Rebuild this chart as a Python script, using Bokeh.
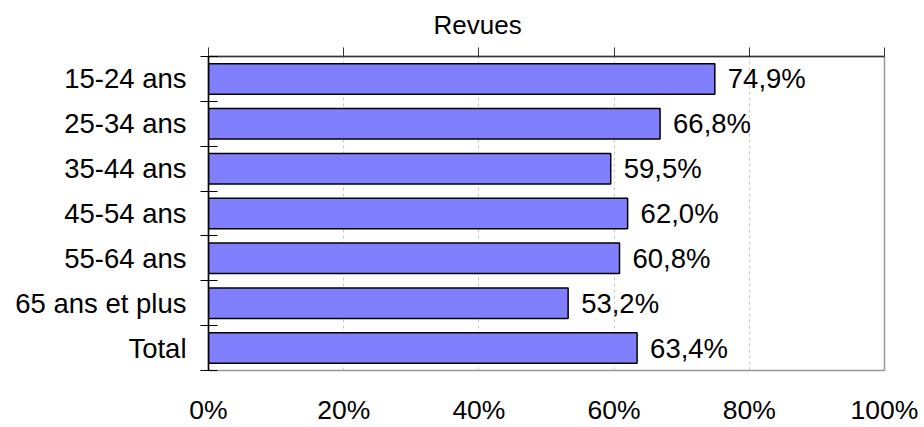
from bokeh.plotting import figure
from bokeh.models import Range1d, LinearAxis, FixedTicker, ColumnDataSource
from bokeh.core.properties import value
from bokeh.embed import file_html
from bokeh.resources import INLINE

categories = ["15-24 ans", "25-34 ans", "35-44 ans", "45-54 ans", "55-64 ans", "65 ans et plus", "Total"]
values = [74.9, 66.8, 59.5, 62.0, 60.8, 53.2, 63.4]
x_ticks = [0, 20, 40, 60, 80, 100]
x_tick_labels = ["0%", "20%", "40%", "60%", "80%", "100%"]
title_text = "Revues"

n = len(categories)
ypos = [n - 0.5 - i for i in range(n)]
labels = [f"{v:.1f}".replace(".", ",") + "%" for v in values]

FONT = "Liberation Sans"
FS = "27.5px"
FS2 = "26.5px"

p = figure(width=920, height=427, output_backend="svg", toolbar_location=None,
           x_range=Range1d(0, 100), y_range=Range1d(0, n),
           x_axis_location=None, y_axis_location=None,
           min_border_left=208, min_border_right=36, min_border_top=56, min_border_bottom=40)
p.background_fill_color = "white"
p.border_fill_color = "white"
p.outline_line_color = "#999999"
p.outline_line_width = 1.5

p.title.text = title_text
p.title.align = "left"
p.title.offset = 225
p.title.text_font = FONT
p.title.text_font_size = "26px"
p.title.text_font_style = "normal"
p.title.text_color = "black"
p.title.standoff = 15

src = ColumnDataSource(dict(y=ypos, right=values, lab=labels))
p.hbar(y="y", left=0, right="right", height=0.68, source=src,
       fill_color="#8080FF", line_color="black", line_width=1.5)
p.text(x="right", y="y", text="lab", source=src, x_offset=13,
       text_font=value(FONT), text_font_size=FS, text_baseline="middle",
       text_align="left", text_color="black")

# grid
p.xgrid.ticker = FixedTicker(ticks=[20, 40, 60, 80])
p.xgrid.grid_line_color = "#c8c8c8"
p.xgrid.grid_line_dash = "3 3"
p.ygrid.visible = False

# bottom axis (labels only)
bx = LinearAxis(ticker=FixedTicker(ticks=x_ticks),
                major_label_overrides={t: l for t, l in zip(x_ticks, x_tick_labels)})
bx.axis_line_color = None
bx.major_tick_line_color = None
bx.major_tick_out = 0
bx.major_tick_in = 0
bx.minor_tick_line_color = None
bx.major_label_standoff = 24
bx.major_label_text_font = FONT
bx.major_label_text_font_size = FS2
bx.major_label_text_color = "black"
p.add_layout(bx, "below")

# top axis (line and ticks only)
tx = LinearAxis(ticker=FixedTicker(ticks=x_ticks))
tx.axis_line_color = "#333333"
tx.axis_line_width = 1.5
tx.major_tick_line_color = "#333333"
tx.major_tick_out = 9
tx.major_tick_in = 0
tx.minor_tick_line_color = None
tx.major_label_standoff = 0
tx.major_label_text_font_size = "0px"
tx.major_label_text_color = None
p.add_layout(tx, "above")

# left axis: labels at centers, ticks at boundaries
ly = LinearAxis(ticker=FixedTicker(ticks=ypos, minor_ticks=list(range(n + 1))),
                major_label_overrides={y: c for y, c in zip(ypos, categories)})
ly.axis_line_color = "black"
ly.axis_line_width = 1.5
ly.major_tick_line_color = None
ly.major_tick_out = 0
ly.major_tick_in = 0
ly.minor_tick_line_color = "black"
ly.minor_tick_out = 8
ly.minor_tick_in = 9
ly.major_label_standoff = 14
ly.major_label_text_font = FONT
ly.major_label_text_font_size = FS
ly.major_label_text_color = "black"
p.add_layout(ly, "left")

open("out.html", "w").write(file_html(p, INLINE))
